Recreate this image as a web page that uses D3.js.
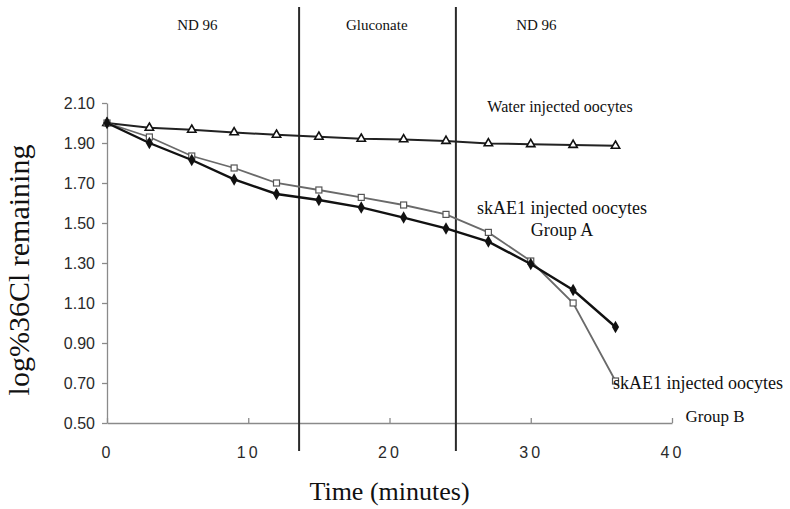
<!DOCTYPE html>
<html>
<head>
<meta charset="utf-8">
<script src="https://d3js.org/d3.v7.min.js"></script>
<style>
  body { margin: 0; background: #fff; }
  svg { display: block; }
  .tick text { font-family: "Liberation Sans", Arial, sans-serif; fill: #2a2a2a; }
  .serif { font-family: "Liberation Serif", "Times New Roman", serif; fill: #111; }
</style>
</head>
<body>
<div id="chart"></div>
<script>
// 36Cl efflux - log % remaining vs time

var times = [0, 3, 6, 9, 12, 15, 18, 21, 24, 27, 30, 33, 36];
var waterVals = [2.00, 1.976, 1.966, 1.953, 1.941, 1.931, 1.921, 1.918, 1.910, 1.898, 1.894, 1.890, 1.886];
var groupAVals = [2.00, 1.90, 1.815, 1.718, 1.645, 1.615, 1.578, 1.527, 1.473, 1.407, 1.295, 1.165, 0.98];
var groupBVals = [2.00, 1.93, 1.835, 1.775, 1.70, 1.665, 1.628, 1.59, 1.543, 1.453, 1.31, 1.10, 0.71];
var xTicks = [0, 10, 20, 30, 40];
var yTicks = [0.5, 0.7, 0.9, 1.1, 1.3, 1.5, 1.7, 1.9, 2.1];
var phaseBreaks = [13.6, 24.7];
var phaseNames = ["ND 96", "Gluconate", "ND 96"];
var phaseMids = [6.4, 19.1, 30.4];

var width = 790;
var height = 509;

var svg = d3.select("#chart")
    .append("svg")
    .attr("width", width)
    .attr("height", height);

var x = d3.scaleLinear().domain([0, 40]).range([107, 672]);
var y = d3.scaleLinear().domain([0.5, 2.1]).range([423, 103]);

// axes
var yAxis = svg.append("g")
    .attr("transform", "translate(" + x(0) + ",0)")
    .call(d3.axisLeft(y).tickValues(yTicks).tickFormat(d3.format(".2f"))
        .tickSize(5).tickPadding(7).tickSizeOuter(0));
yAxis.selectAll("text").style("font-size", "16px");

var xAxis = svg.append("g")
    .attr("transform", "translate(0," + y(0.5) + ")")
    .call(d3.axisBottom(x).tickValues(xTicks).tickSize(-5).tickPadding(24).tickSizeOuter(0));
xAxis.selectAll("text").style("font-size", "16px").style("letter-spacing", "3px");

svg.selectAll(".domain, .tick line").attr("stroke", "#8a8a8a").attr("stroke-width", 1.3);

// phase separators
svg.selectAll(".phase")
    .data(phaseBreaks)
    .enter()
    .append("line")
    .attr("class", "phase")
    .attr("x1", function(d) { return x(d); })
    .attr("x2", function(d) { return x(d); })
    .attr("y1", 7)
    .attr("y2", 451)
    .attr("stroke", "#2a2a2a")
    .attr("stroke-width", 2);

svg.selectAll(".phaseName")
    .data(phaseNames)
    .enter()
    .append("text")
    .attr("class", "serif phaseName")
    .attr("x", function(d, i) { return x(phaseMids[i]); })
    .attr("y", 30)
    .attr("text-anchor", "middle")
    .style("font-size", "15px")
    .text(function(d) { return d; });

var line = d3.line()
    .x(function(d) { return x(d[0]); })
    .y(function(d) { return y(d[1]); });

function pairs(vals) {
    return times.map(function(t, i) { return [t, vals[i]]; });
}

// water injected
svg.append("path")
    .datum(pairs(waterVals))
    .attr("d", line)
    .attr("fill", "none")
    .attr("stroke", "#222")
    .attr("stroke-width", 2);
svg.selectAll(".wpt")
    .data(pairs(waterVals))
    .enter()
    .append("path")
    .attr("class", "wpt")
    .attr("transform", function(d) { return "translate(" + x(d[0]) + "," + y(d[1]) + ")"; })
    .attr("d", d3.symbol().type(d3.symbolTriangle).size(30))
    .attr("fill", "#fff")
    .attr("stroke", "#111")
    .attr("stroke-width", 1.6);

// group B (open squares)
svg.append("path")
    .datum(pairs(groupBVals))
    .attr("d", line)
    .attr("fill", "none")
    .attr("stroke", "#6a6a6a")
    .attr("stroke-width", 1.8);
svg.selectAll(".bpt")
    .data(pairs(groupBVals))
    .enter()
    .append("rect")
    .attr("class", "bpt")
    .attr("x", function(d) { return x(d[0]) - 3; })
    .attr("y", function(d) { return y(d[1]) - 3; })
    .attr("width", 6)
    .attr("height", 6)
    .attr("fill", "#fff")
    .attr("stroke", "#555")
    .attr("stroke-width", 1.2);

// group A (filled diamonds)
svg.append("path")
    .datum(pairs(groupAVals))
    .attr("d", line)
    .attr("fill", "none")
    .attr("stroke", "#111")
    .attr("stroke-width", 2.4);
svg.selectAll(".apt")
    .data(pairs(groupAVals))
    .enter()
    .append("path")
    .attr("class", "apt")
    .attr("transform", function(d) { return "translate(" + x(d[0]) + "," + y(d[1]) + ")"; })
    .attr("d", d3.symbol().type(d3.symbolDiamond).size(45))
    .attr("fill", "#111");

// series labels
svg.append("text").attr("class", "serif")
    .attr("x", 560).attr("y", 112).attr("text-anchor", "middle")
    .style("font-size", "16px")
    .text("Water injected oocytes");
svg.append("text").attr("class", "serif")
    .attr("x", 562).attr("y", 214).attr("text-anchor", "middle")
    .style("font-size", "18px")
    .text("skAE1 injected oocytes");
svg.append("text").attr("class", "serif")
    .attr("x", 562).attr("y", 236).attr("text-anchor", "middle")
    .style("font-size", "18px")
    .text("Group A");
svg.append("text").attr("class", "serif")
    .attr("x", 613).attr("y", 389).attr("text-anchor", "start")
    .style("font-size", "18px")
    .text("skAE1 injected oocytes");
svg.append("text").attr("class", "serif")
    .attr("x", 715).attr("y", 422).attr("text-anchor", "middle")
    .style("font-size", "17px")
    .text("Group B");

// axis titles
svg.append("text").attr("class", "serif")
    .attr("x", (x(0) + x(40)) / 2).attr("y", 500).attr("text-anchor", "middle")
    .style("font-size", "26px")
    .text("Time (minutes)");
svg.append("text").attr("class", "serif")
    .attr("transform", "translate(29,270)rotate(-90)")
    .attr("text-anchor", "middle")
    .style("font-size", "30px")
    .text("log%36Cl remaining");
</script>
</body>
</html>
